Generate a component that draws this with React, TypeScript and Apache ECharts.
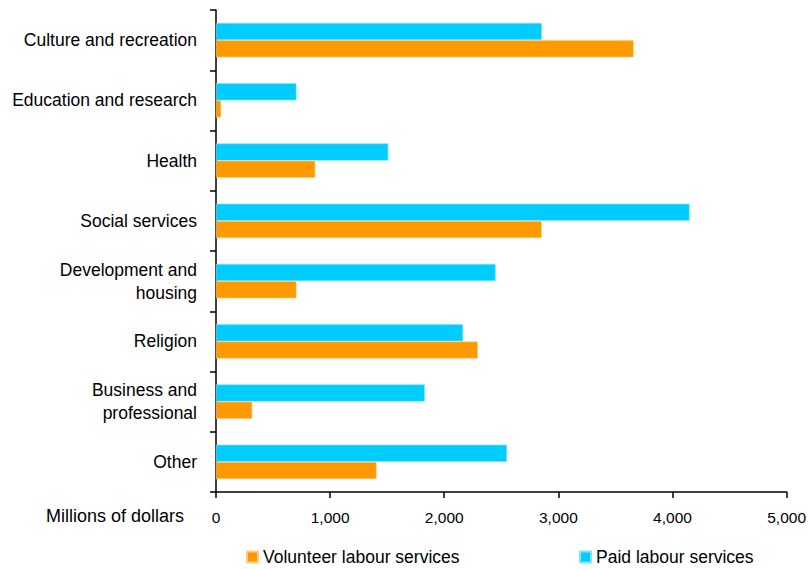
import React, { useEffect, useRef } from "react";
import * as echarts from "echarts";

const categories = [
  "Culture and recreation",
  "Education and research",
  "Health",
  "Social services",
  "Development and\nhousing",
  "Religion",
  "Business and\nprofessional",
  "Other",
];
const volunteer = [3660, 45, 870, 2855, 705, 2295, 317, 1407];
const paid = [2855, 705, 1510, 4150, 2450, 2165, 1830, 2550];
const xTicks = [0, 1000, 2000, 3000, 4000, 5000];

const FONT = "Liberation Sans, Arial, sans-serif";

export default function App() {
  const ref = useRef<HTMLDivElement>(null);
  useEffect(() => {
    if (!ref.current) return;
    const chart = echarts.init(ref.current, null, { renderer: "svg" });
    const legendText = { fontSize: 17.5, color: "#000", fontFamily: FONT, lineHeight: 18 };
    chart.setOption({
      animation: false,
      textStyle: { fontFamily: FONT },
      grid: { left: 216, right: 21, top: 10, bottom: 77, containLabel: false },
      legend: [
        {
          data: ["Volunteer labour services"],
          left: 246,
          top: 548,
          padding: 0,
          itemWidth: 11,
          itemHeight: 11,
          icon: "rect",
          textStyle: legendText,
        },
        {
          data: ["Paid labour services"],
          left: 579,
          top: 548,
          padding: 0,
          itemWidth: 11,
          itemHeight: 11,
          icon: "rect",
          textStyle: legendText,
        },
      ],
      xAxis: {
        type: "value",
        min: xTicks[0],
        max: xTicks[xTicks.length - 1],
        interval: 1000,
        axisLine: { show: true, lineStyle: { color: "#000", width: 1.5 } },
        axisTick: { show: true, length: 6, lineStyle: { color: "#000", width: 1.5 } },
        splitLine: { show: false },
        axisLabel: {
          margin: 17,
          fontSize: 15.5,
          color: "#000",
          fontFamily: FONT,
          formatter: (v: number) => v.toLocaleString("en-US"),
        },
      },
      yAxis: {
        type: "category",
        data: categories,
        inverse: true,
        axisLine: { show: true, lineStyle: { color: "#000", width: 1.5 } },
        axisTick: { show: true, length: 6, lineStyle: { color: "#000", width: 1.5 } },
        axisLabel: {
          margin: 19,
          fontSize: 17.5,
          color: "#000",
          fontFamily: FONT,
          align: "right",
          lineHeight: 23,
        },
      },
      graphic: [
        {
          type: "text",
          right: 809 - 184,
          top: 507,
          style: { text: "Millions of dollars", fontSize: 18, fill: "#000", fontFamily: FONT },
        },
      ],
      series: [
        {
          name: "Paid labour services",
          type: "bar",
          data: paid,
          barGap: "0%",
          barCategoryGap: "43%",
          itemStyle: { color: "#00CCFF", borderColor: "#7fe5ff", borderWidth: 0.6 },
        },
        {
          name: "Volunteer labour services",
          type: "bar",
          data: volunteer,
          barGap: "0%",
          barCategoryGap: "43%",
          itemStyle: { color: "#FF9900", borderColor: "#ffcc80", borderWidth: 0.6 },
        },
      ],
    });
    return () => chart.dispose();
  }, []);
  return <div ref={ref} style={{ width: 809, height: 569, position: "absolute", left: 0, top: 0 }} />;
}
